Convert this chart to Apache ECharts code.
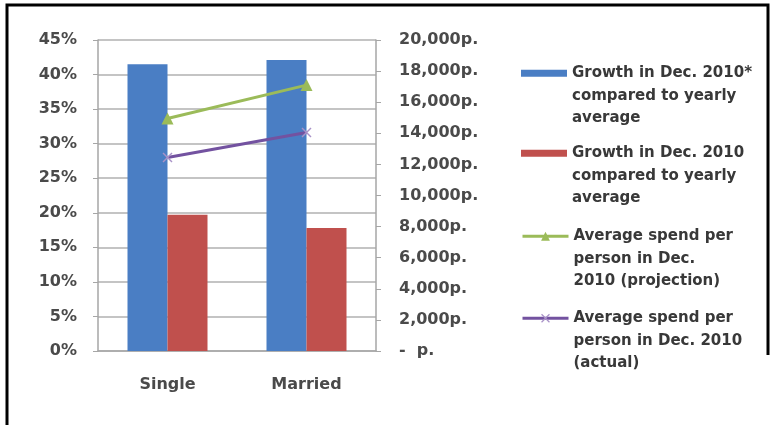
<!DOCTYPE html>
<html>
<head>
<meta charset="utf-8">
<script src="https://cdn.jsdelivr.net/npm/echarts@6/dist/echarts.min.js"></script>
<style>
  html, body { margin: 0; padding: 0; background: #fff; }
  #chart { width: 771px; height: 425px; }
</style>
</head>
<body>
<div id="chart"></div>
<script>
// Household groups on the x axis
const categories = ['Single', 'Married'];

// Growth in December vs. yearly average (percent, left axis)
const growthProjected = [41.5, 42.1];
const growthActual = [19.7, 17.8];

// Average spend per person in December (pence, right axis)
const spendProjection = [14950, 17100];
const spendActual = [12450, 14050];

// Series names as shown in the legend
const seriesNames = [
  'Growth in Dec. 2010*\ncompared to yearly\naverage',
  'Growth in Dec. 2010\ncompared to yearly\naverage',
  'Average spend per\nperson in Dec.\n2010 (projection)',
  'Average spend per\nperson in Dec. 2010\n(actual)'
];

const FONT = '"DejaVu Sans", sans-serif';
const LABEL_COLOR = '#4a4a4a';
const GRID_COLOR = '#c4c4c4';
const AXIS_COLOR = '#a6a6a6';
const LINE_H = 22.5;

const chart = echarts.init(document.getElementById('chart'), null, { renderer: 'canvas' });

function spendLabel(v) {
  if (v === 0) return '-  p.';
  return v.toLocaleString('en-GB') + 'p.';
}

// One legend block per series, stacked in the right-hand column.
// Two blank lines ahead of each name put the first text line level with the key.
const legendTops = [12, 92, 175, 257];
const legends = seriesNames.map((name, i) => ({
  data: [{ name: name, icon: i < 2 ? 'rect' : undefined }],
  orient: 'vertical',
  left: 516,
  top: legendTops[i],
  itemWidth: 46,
  itemHeight: i < 2 ? 7 : 11,
  itemGap: 0,
  selectedMode: false,
  lineStyle: { width: 3 },
  formatter: n => '\n\n' + n,
  textStyle: {
    fontFamily: FONT,
    fontSize: 15,
    fontWeight: 'bold',
    color: '#383838',
    lineHeight: LINE_H
  }
}));

const xMarker = 'path://M0,1L1,0L5,4L9,0L10,1L6,5L10,9L9,10L5,6L1,10L0,9L4,5Z';

const axisFont = { fontFamily: FONT, fontSize: 16, fontWeight: 'bold', color: LABEL_COLOR };

const option = {
  animation: false,
  backgroundColor: '#ffffff',
  legend: legends,
  grid: { left: 98, right: 395, top: 40, bottom: 74, containLabel: false },
  xAxis: {
    type: 'category',
    data: categories,
    axisLine: { show: true, lineStyle: { color: AXIS_COLOR, width: 1.5 } },
    axisTick: { show: false },
    axisLabel: Object.assign({ margin: 26 }, axisFont)
  },
  yAxis: [
    {
      type: 'value',
      min: 0, max: 45, interval: 5,
      axisLine: { show: true, lineStyle: { color: AXIS_COLOR, width: 1.5 } },
      axisTick: { show: true, length: 5, inside: false, lineStyle: { color: AXIS_COLOR } },
      axisLabel: Object.assign({ margin: 21, formatter: '{value}%' }, axisFont),
      splitLine: { show: true, lineStyle: { color: GRID_COLOR, width: 2 } }
    },
    {
      type: 'value',
      min: 0, max: 20000, interval: 2000,
      position: 'right',
      axisLine: { show: true, lineStyle: { color: AXIS_COLOR, width: 1.5 } },
      axisTick: { show: true, length: 5, inside: false, lineStyle: { color: AXIS_COLOR } },
      axisLabel: Object.assign({ margin: 23, formatter: spendLabel }, axisFont),
      splitLine: { show: false }
    }
  ],
  series: [
    {
      name: seriesNames[0],
      type: 'bar',
      yAxisIndex: 0,
      data: growthProjected,
      barWidth: 40,
      barGap: '0%',
      itemStyle: { color: '#4a7ec4' }
    },
    {
      name: seriesNames[1],
      type: 'bar',
      yAxisIndex: 0,
      data: growthActual,
      barWidth: 40,
      barGap: '0%',
      itemStyle: { color: '#c0504d' }
    },
    {
      name: seriesNames[2],
      type: 'line',
      yAxisIndex: 1,
      data: spendProjection,
      symbol: 'triangle',
      symbolSize: 12,
      lineStyle: { color: '#9bbb59', width: 3 },
      itemStyle: { color: '#9bbb59' },
      z: 5
    },
    {
      name: seriesNames[3],
      type: 'line',
      yAxisIndex: 1,
      data: spendActual,
      symbol: xMarker,
      symbolSize: 10,
      lineStyle: { color: '#7352a0', width: 3 },
      itemStyle: { color: '#a992c8' },
      z: 5
    }
  ],
  graphic: [
    {
      type: 'polyline',
      silent: true,
      shape: { points: [[7, 425], [7, 5], [768, 5], [768, 355]] },
      style: { stroke: '#000', lineWidth: 3, fill: null }
    }
  ]
};

chart.setOption(option);
</script>
</body>
</html>
